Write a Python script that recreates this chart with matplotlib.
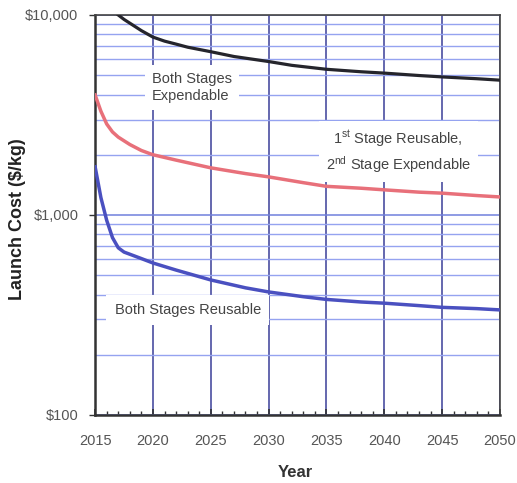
import matplotlib
matplotlib.use("Agg")
import matplotlib.pyplot as plt
from matplotlib.ticker import FixedLocator, NullFormatter, MultipleLocator

plt.rcParams["font.family"] = ["Liberation Sans", "DejaVu Sans"]
plt.rcParams["mathtext.fontset"] = "custom"
plt.rcParams["mathtext.rm"] = "Liberation Sans"
plt.rcParams["mathtext.it"] = "Liberation Sans"
plt.rcParams["mathtext.bf"] = "Liberation Sans:bold"

# Launch cost ($/kg) by year for three vehicle architectures
expendable_years = [2017, 2017.5, 2018, 2019, 2020, 2021, 2022, 2023, 2025, 2027, 2030,
                    2032, 2035, 2038, 2040, 2043, 2045, 2048, 2050]
both_expendable = [10000, 9500, 9100, 8350, 7750, 7400, 7150, 6900, 6550, 6200, 5850,
                   5600, 5350, 5200, 5120, 4980, 4900, 4800, 4720]

first_reusable_years = [2015, 2015.5, 2016, 2016.5, 2017, 2018, 2019, 2020, 2022, 2025,
                        2028, 2030, 2033, 2035, 2038, 2040, 2043, 2045, 2048, 2050]
first_reusable = [3980, 3300, 2850, 2600, 2450, 2250, 2100, 2000, 1880, 1720,
                  1610, 1550, 1450, 1390, 1360, 1335, 1300, 1285, 1250, 1230]

both_reusable_years = [2015, 2015.5, 2016, 2016.5, 2017, 2017.5, 2018, 2019, 2020, 2022,
                       2025, 2028, 2030, 2033, 2035, 2038, 2040, 2043, 2045, 2048, 2050]
both_reusable = [1740, 1220, 940, 770, 685, 652, 636, 605, 575, 530,
                 473, 432, 412, 390, 378, 367, 362, 352, 345, 340, 335]

x_ticks = [2015, 2020, 2025, 2030, 2035, 2040, 2045, 2050]
y_ticks = [100, 1000, 10000]
y_tick_labels = ["$100", "$1,000", "$10,000"]

fig = plt.figure(figsize=(5.17, 4.83), dpi=100)
ax = fig.add_axes([0.184, 0.141, 0.783, 0.828])

ax.set_yscale("log")
ax.set_xlim(2015, 2050)
ax.set_ylim(100, 10000)

minor_y = [m * d for d in (100, 1000) for m in range(2, 10)]
ax.yaxis.set_major_locator(FixedLocator(y_ticks))
ax.yaxis.set_minor_locator(FixedLocator(minor_y))
ax.yaxis.set_minor_formatter(NullFormatter())
ax.set_yticklabels(y_tick_labels)
ax.set_xticks(x_ticks)
ax.xaxis.set_minor_locator(MultipleLocator(1))

ax.grid(which="minor", axis="y", color="#95a3f0", lw=1.0, zorder=0)
ax.grid(which="major", axis="y", color="#7080dc", lw=1.1, zorder=0)
ax.grid(which="major", axis="x", color="#3a3f98", lw=1.1, zorder=0)

ax.tick_params(axis="y", which="major", length=4, width=1, color="#333333",
               labelsize=10.5, labelcolor="#555555", pad=8)
ax.tick_params(axis="y", which="minor", length=0)
ax.tick_params(axis="x", which="major", direction="in", length=4, width=1.2,
               color="#333333", labelsize=10.5, labelcolor="#555555", pad=14)
ax.tick_params(axis="x", which="minor", direction="in", length=3, width=1,
               color="#333333")

for side in ("left", "bottom"):
    ax.spines[side].set_color("#333333")
    ax.spines[side].set_linewidth(1.8)
for side in ("top", "right"):
    ax.spines[side].set_color("#444444")
    ax.spines[side].set_linewidth(1.2)

ax.plot(expendable_years, both_expendable, color="#25252c", lw=2.3, zorder=3,
        solid_joinstyle="round")
ax.plot(first_reusable_years, first_reusable, color="#e8707a", lw=2.5, zorder=3,
        solid_joinstyle="round")
ax.plot(both_reusable_years, both_reusable, color="#4a50c0", lw=2.5, zorder=3,
        solid_joinstyle="round")

box = dict(facecolor="white", edgecolor="none", pad=5)
ax.text(2019.9, 4340, "Both Stages\nExpendable", fontsize=10.5, color="#444444",
        ha="left", va="center", linespacing=1.3, bbox=box, zorder=4)
ax.text(2041.2, 2070, "1$^{\\mathrm{st}}$ Stage Reusable,\n2$^{\\mathrm{nd}}$ Stage Expendable",
        fontsize=10.5, color="#444444", ha="center", va="center", linespacing=1.3,
        bbox=box, zorder=4)
ax.text(2016.7, 335, "Both Stages Reusable", fontsize=10.5, color="#444444",
        ha="left", va="center", bbox=dict(facecolor="white", edgecolor="none", pad=6), zorder=4)

ax.set_xlabel("Year", fontsize=12, fontweight="bold", color="#333333")
ax.set_ylabel("Launch Cost ($/kg)", fontsize=13, fontweight="bold", color="#222222")
ax.xaxis.set_label_coords(0.494, -0.125)
ax.yaxis.set_label_coords(-0.170, 0.49)

fig.savefig("out.png", dpi=100, facecolor="white")
